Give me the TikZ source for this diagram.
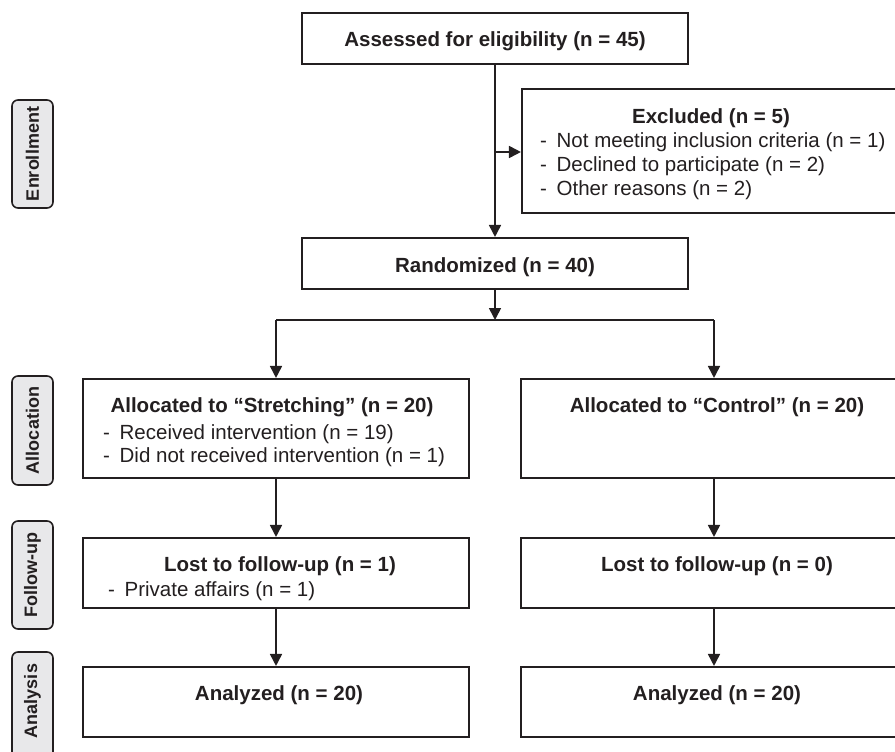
\documentclass[tikz,border=0pt]{standalone}
\usepackage{fontspec}
\setmainfont{Liberation Sans}
\usetikzlibrary{arrows.meta}
\definecolor{ink}{HTML}{231F20}
\definecolor{labfill}{HTML}{E8E8EA}
\tikzset{
  box/.style={draw=ink, line width=2.1pt, rectangle, inner sep=0pt, fill=white},
  lab/.style={draw=ink, line width=1.6pt, rounded corners=6pt, fill=labfill, inner sep=0pt,
    minimum height=41pt, rotate=90, text=ink, font=\fontsize{18}{20}\selectfont\bfseries},
  ttl/.style={inner sep=0pt, anchor=base, text=ink, font=\fontsize{20.5}{24}\selectfont\bfseries},
  itm/.style={inner sep=0pt, anchor=base west, text=ink, font=\fontsize{20.5}{24}\selectfont},
  conn/.style={draw=ink, line width=1.7pt},
  arr/.style={conn, -{Triangle[length=12pt,width=12pt]}}
}
\newcommand{\dashitem}[1]{\makebox[16.5pt][l]{-}#1}
\begin{document}
\begin{tikzpicture}[x=1pt,y=-1pt]
\useasboundingbox (0,0) rectangle (895,752);
\clip (0,0) rectangle (895,752);
% boxes
\node[box, minimum width=386pt, minimum height=51pt] (assess) at (495,38.5) {};
\node[box, minimum width=390pt, minimum height=124pt] (excl) at (717,151) {};
\node[box, minimum width=386pt, minimum height=51pt] (rand) at (495,263.5) {};
\node[box, minimum width=386pt, minimum height=99pt] (sa) at (276,428.5) {};
\node[box, minimum width=386pt, minimum height=99pt] (ca) at (714,428.5) {};
\node[box, minimum width=386pt, minimum height=70pt] (sf) at (276,573) {};
\node[box, minimum width=386pt, minimum height=70pt] (cf) at (714,573) {};
\node[box, minimum width=386pt, minimum height=70pt] (san) at (276,702) {};
\node[box, minimum width=386pt, minimum height=70pt] (can) at (714,702) {};
% side labels
\node[lab, minimum width=108pt] (lenr) at (32.5,154) {Enrollment};
\node[lab, minimum width=109pt] (lall) at (32.5,430.5) {Allocation};
\node[lab, minimum width=108pt] (lfol) at (32.5,575) {Follow-up};
\node[lab, minimum width=108pt] (lana) at (32.5,706) {};
\node[inner sep=0pt, rotate=90, text=ink, font=\fontsize{18}{20}\selectfont\bfseries] (lanat) at (32.5,701) {Analysis};
% texts
\node[ttl] (tassess) at (495,47) {Assessed for eligibility (n = 45)};
\node[ttl] (texcl) at (711,124) {Excluded (n = 5)};
\node[itm] (te1) at (540,147) {\dashitem{Not meeting inclusion criteria (n = 1)}};
\node[itm] (te2) at (540,171) {\dashitem{Declined to participate (n = 2)}};
\node[itm] (te3) at (540,195) {\dashitem{Other reasons (n = 2)}};
\node[ttl] (trand) at (495,272) {Randomized (n = 40)};
\node[ttl] (tsa) at (272,412) {Allocated to “Stretching” (n = 20)};
\node[itm] (tsa1) at (103,439) {\dashitem{Received intervention (n = 19)}};
\node[itm] (tsa2) at (103,462) {\dashitem{Did not received intervention (n = 1)}};
\node[ttl] (tca) at (717,412) {Allocated to “Control” (n = 20)};
\node[ttl] (tsf) at (280,571) {Lost to follow-up (n = 1)};
\node[itm] (tsf1) at (108,596) {\dashitem{Private affairs (n = 1)}};
\node[ttl] (tcf) at (717,571) {Lost to follow-up (n = 0)};
\node[ttl] (tsan) at (279,700) {Analyzed (n = 20)};
\node[ttl] (tcan) at (717,700) {Analyzed (n = 20)};
% connectors
\coordinate (j1) at (495,152);
\coordinate (br) at (495,320);
\draw[arr] (assess.south) -- (rand.north);
\draw[arr] (j1) -- (excl.west |- j1);
\draw[arr] (rand.south) -- (br);
\draw[conn] (sa.north |- br) -- (ca.north |- br);
\draw[arr] (sa.north |- br) -- (sa.north);
\draw[arr] (ca.north |- br) -- (ca.north);
\draw[arr] (sa.south) -- (sf.north);
\draw[arr] (ca.south) -- (cf.north);
\draw[arr] (sf.south) -- (san.north);
\draw[arr] (cf.south) -- (can.north);
\end{tikzpicture}
\end{document}
